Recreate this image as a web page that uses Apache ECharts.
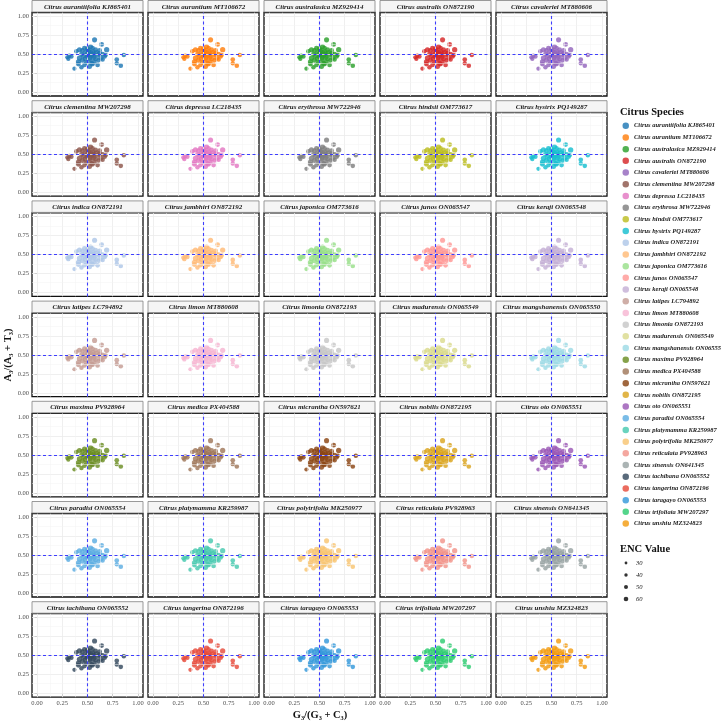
<!DOCTYPE html>
<html><head><meta charset="utf-8">
<script src="https://cdn.jsdelivr.net/npm/echarts@6/dist/echarts.min.js"></script>
<style>html,body{margin:0;padding:0;background:#fff}#c{width:721px;height:723px}</style>
</head><body><div id="c"></div>
<script>
// ---------------- data ----------------
const species = [
  'Citrus aurantiifolia KJ865401','Citrus aurantium MT106672','Citrus australasica MZ929414','Citrus australis ON872190','Citrus cavaleriei MT880606',
  'Citrus clementina MW207298','Citrus depressa LC218435','Citrus erythrosa MW722946','Citrus hindsii OM773617','Citrus hystrix PQ149287',
  'Citrus indica ON872191','Citrus jambhiri ON872192','Citrus japonica OM773616','Citrus junos ON065547','Citrus keraji ON065548',
  'Citrus latipes LC794892','Citrus limon MT880608','Citrus limonia ON872193','Citrus madurensis ON065549','Citrus mangshanensis ON065550',
  'Citrus maxima PV928964','Citrus medica PX404588','Citrus micrantha ON597621','Citrus nobilis ON872195','Citrus oto ON065551',
  'Citrus paradisi ON065554','Citrus platymamma KR259987','Citrus polytrifolia MK250977','Citrus reticulata PV928963','Citrus sinensis ON641345',
  'Citrus tachibana ON065552','Citrus tangerina ON872196','Citrus taragayo ON065553','Citrus trifoliata MW207297','Citrus unshiu MZ324823'
];
const palette = [
  '#1f77b4','#ff7f0e','#2ca02c','#d62728','#9467bd','#8c564b','#e377c2','#7f7f7f','#bcbd22','#17becf',
  '#aec7e8','#ffbb78','#98df8a','#ff9896','#c5b0d5','#c49c94','#f7b6d2','#c7c7c7','#dbdb8d','#9edae5',
  '#6b8e23','#a0785a','#8b4513','#daa520','#9b59b6','#5dade2','#48c9b0','#f8c471','#f1948a','#99a3a4',
  '#34495e','#e74c3c','#3498db','#2ecc71','#f39c12'
];
// G3/(G3+C3)
const gc3 = [0.57,0.64,0.69,0.53,0.55,0.50,0.47,0.42,0.39,0.45,0.86,0.79,0.79,0.83,0.30,0.32,0.34,0.31,0.37,0.44,
  0.52,0.55,0.60,0.41,0.42,0.41,0.45,0.48,0.50,0.52,0.54,0.56,0.58,0.60,0.62,0.65,0.67,0.63,0.59,0.55,
  0.51,0.48,0.53,0.57,0.61,0.65,0.49,0.52,0.56,0.50,0.46,0.58,0.62,0.47,0.54,0.68,0.44,0.53];
// A3/(A3+T3)
const at3 = [0.69,0.63,0.56,0.60,0.58,0.57,0.58,0.56,0.54,0.55,0.49,0.43,0.38,0.35,0.46,0.48,0.47,0.44,0.31,0.33,
  0.34,0.37,0.36,0.40,0.45,0.37,0.42,0.44,0.47,0.50,0.48,0.46,0.44,0.49,0.51,0.50,0.47,0.45,0.52,0.53,
  0.55,0.52,0.42,0.40,0.42,0.43,0.39,0.45,0.50,0.50,0.48,0.56,0.55,0.36,0.38,0.49,0.50,0.52];
const enc = [52,48,55,50,46,53,49,51,44,47,42,45,40,43,38,41,44,39,36,42,
  50,47,45,52,54,49,51,56,58,55,53,57,50,48,52,46,44,51,55,57,
  53,50,47,45,43,41,49,54,56,58,52,48,46,44,50,42,47,55];
const tickValues = [0, 0.25, 0.5, 0.75, 1];
const tickLabels = ['0.00', '0.25', '0.50', '0.75', '1.00'];
const minorValues = [0.125, 0.375, 0.625, 0.875];
const encLegend = [30, 40, 50, 60];

// ---------------- layout ----------------
const SERIF = '"Liberation Serif","Times New Roman",serif';
const LEFT0 = 32, PITCH_X = 116, PANEL_W = 111;
const ROW_PITCH = 100.2, STRIP_H = 11.5, PLOT_H = 83.5;
const sizeOf = v => 3.8 + (v - 30) / 30 * 1.8;
const lbl = v => { const k = tickValues.findIndex(t => Math.abs(t - v) < 1e-9); return k >= 0 ? tickLabels[k] : ''; };
const refLine = {color: '#2a2aff', width: 1.1, type: [3, 2.5], opacity: 0.9};

const grids = [], xAxes = [], yAxes = [], series = [], graphics = [];
const gridLineData = [];
tickValues.forEach(v => {
  gridLineData.push({xAxis: v, lineStyle: {color: '#ebebeb', width: 0.8, type: 'solid'}});
  gridLineData.push({yAxis: v, lineStyle: {color: '#ebebeb', width: 0.8, type: 'solid'}});
});
minorValues.forEach(v => {
  gridLineData.push({xAxis: v, lineStyle: {color: '#f2f2f2', width: 0.5, type: 'solid'}});
  gridLineData.push({yAxis: v, lineStyle: {color: '#f2f2f2', width: 0.5, type: 'solid'}});
});

species.forEach((name, i) => {
  const r = Math.floor(i / 5), c = i % 5;
  const left = LEFT0 + c * PITCH_X;
  const stripTop = r * ROW_PITCH + 0.5;
  const top = stripTop + STRIP_H + 0.5;
  grids.push({left, top, width: PANEL_W, height: PLOT_H, show: true, borderColor: '#111', borderWidth: 1.3, backgroundColor: '#fff'});
  xAxes.push({
    gridIndex: i, type: 'value', min: -0.05, max: 1.05,
    splitLine: {show: false}, axisLine: {show: false},
    axisTick: {show: r === 6, customValues: tickValues, length: 2.5, lineStyle: {color: '#333', width: 0.8}},
    axisLabel: {show: r === 6, customValues: tickValues, formatter: lbl, fontFamily: SERIF, fontSize: 6.5, color: '#4d4d4d', margin: 3}
  });
  yAxes.push({
    gridIndex: i, type: 'value', min: -0.05, max: 1.05,
    splitLine: {show: false}, axisLine: {show: false},
    axisTick: {show: c === 0, customValues: tickValues, length: 2.5, lineStyle: {color: '#333', width: 0.8}},
    axisLabel: {show: c === 0, customValues: tickValues, formatter: lbl, fontFamily: SERIF, fontSize: 6.5, color: '#4d4d4d', margin: 3}
  });
  series.push({
    type: 'scatter', xAxisIndex: i, yAxisIndex: i, data: [], silent: true, z: 1,
    markLine: {symbol: ['none', 'none'], silent: true, animation: false, label: {show: false}, data: gridLineData}
  });
  series.push({
    type: 'scatter', name: name, xAxisIndex: i, yAxisIndex: i, z: 3,
    data: gc3.map((x, k) => [x, at3[k], enc[k]]),
    symbolSize: d => sizeOf(d[2]),
    itemStyle: {color: palette[i], opacity: 0.82}
  });
  series.push({
    type: 'scatter', xAxisIndex: i, yAxisIndex: i, data: [], silent: true, z: 5,
    markLine: {symbol: ['none', 'none'], silent: true, animation: false, label: {show: false},
      lineStyle: refLine,
      data: [{xAxis: 0.5, lineStyle: refLine}, {yAxis: 0.5, lineStyle: refLine}]}
  });
  graphics.push({type: 'rect', shape: {x: left, y: stripTop, width: PANEL_W, height: STRIP_H},
    style: {fill: '#f5f5f5', stroke: '#808080', lineWidth: 0.8}, z: 10});
  graphics.push({type: 'text', x: left + PANEL_W / 2, y: stripTop + STRIP_H / 2 + 0.5, z: 11,
    style: {text: name, fill: '#1a1a1a', font: 'italic bold 7px ' + SERIF, align: 'center', verticalAlign: 'middle', textAlign: 'center', textVerticalAlign: 'middle'}});
});

// axis titles
graphics.push({type: 'text', x: 8, y: 355, rotation: Math.PI / 2, z: 11,
  style: {text: 'A\u2083/(A\u2083 + T\u2083)', fill: '#111', font: 'bold 10.5px ' + SERIF, align: 'center', verticalAlign: 'middle', textAlign: 'center', textVerticalAlign: 'middle'}});
graphics.push({type: 'text', x: 320, y: 715, z: 11,
  style: {text: 'G\u2083/(G\u2083 + C\u2083)', fill: '#111', font: 'bold 10.5px ' + SERIF, align: 'center', verticalAlign: 'middle', textAlign: 'center', textVerticalAlign: 'middle'}});
// legend titles
graphics.push({type: 'text', x: 620, y: 112, z: 11,
  style: {text: 'Citrus Species', fill: '#111', font: 'bold 10.5px ' + SERIF, align: 'left', verticalAlign: 'middle', textAlign: 'left', textVerticalAlign: 'middle'}});
graphics.push({type: 'text', x: 620, y: 549, z: 11,
  style: {text: 'ENC Value', fill: '#111', font: 'bold 10.5px ' + SERIF, align: 'left', verticalAlign: 'middle', textAlign: 'left', textVerticalAlign: 'middle'}});
encLegend.forEach((v, k) => {
  const y = 563 + k * 12;
  graphics.push({type: 'circle', shape: {cx: 626, cy: y, r: sizeOf(v) / 2 - 0.5}, style: {fill: '#333'}, z: 11});
  graphics.push({type: 'text', x: 636, y: y, z: 11,
    style: {text: String(v), fill: '#222', font: 'italic 6.5px ' + SERIF, align: 'left', verticalAlign: 'middle', textAlign: 'left', textVerticalAlign: 'middle'}});
});

const chart = echarts.init(document.getElementById('c'));
chart.setOption({
  animation: false,
  textStyle: {fontFamily: SERIF},
  grid: grids, xAxis: xAxes, yAxis: yAxes, series: series,
  legend: {
    data: species, orient: 'vertical', left: 622.5, top: 122, padding: 0,
    itemWidth: 6.5, itemHeight: 6.5, itemGap: 4.2, icon: 'circle', selectedMode: false,
    textStyle: {fontFamily: SERIF, fontStyle: 'italic', fontWeight: 'bold', fontSize: 6.5, color: '#222', lineHeight: 7.5}
  },
  graphic: graphics
});
</script></body></html>
